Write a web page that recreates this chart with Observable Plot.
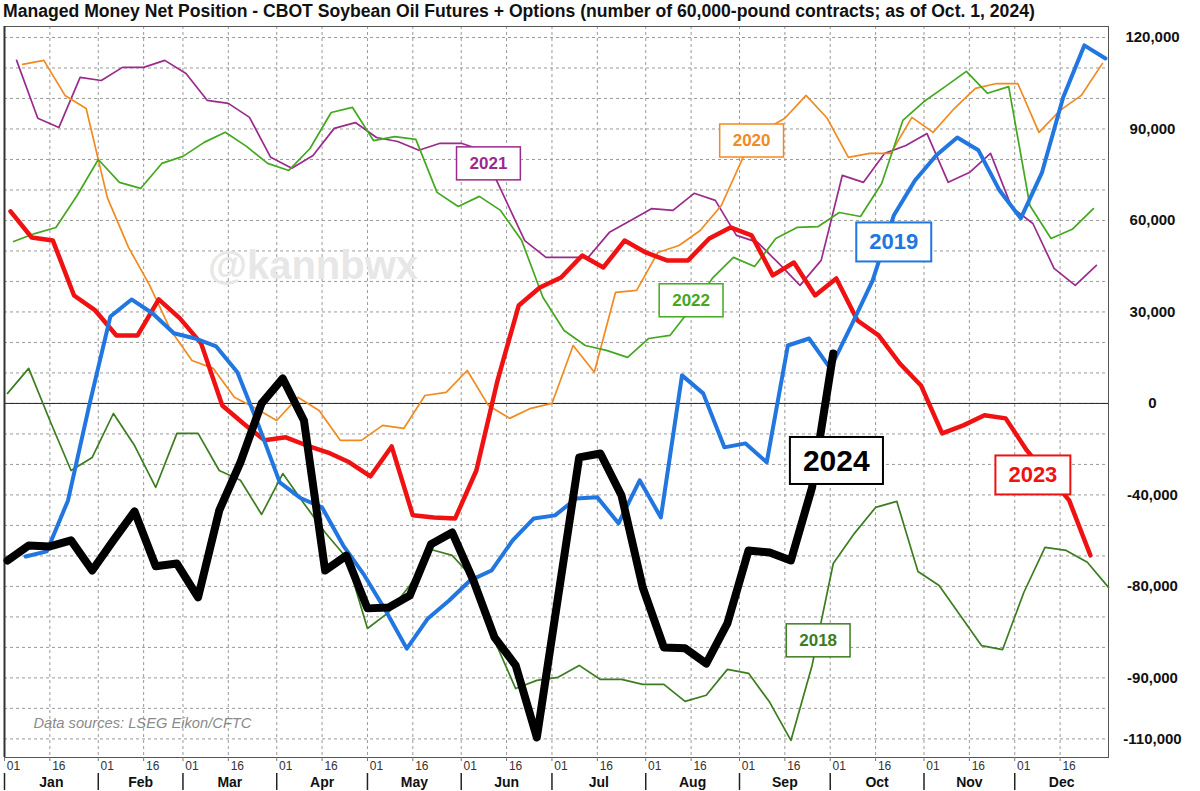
<!DOCTYPE html>
<html><head><meta charset="utf-8">
<script src="https://cdn.jsdelivr.net/npm/d3@7"></script>
<script src="https://cdn.jsdelivr.net/npm/@observablehq/plot@0.6"></script>
<style>
body{margin:0;background:#fff;font-family:"Liberation Sans",Arial,sans-serif;}
#title{height:22px;padding-left:3px;font-weight:bold;font-size:17.6px;line-height:22px;color:#111;white-space:nowrap;overflow:hidden;}
svg{display:block;}
</style></head><body>
<div id="title">Managed Money Net Position - CBOT Soybean Oil Futures + Options (number of 60,000-pound contracts; as of Oct. 1, 2024)</div>
<div id="chart"></div>
<script>
// ---- data (thousands of contracts, weekly CFTC Tuesdays) ----
const years = ["2018","2019","2020","2021","2022","2023","2024"];
const startDates = ["01-02","01-08","01-07","01-05","01-04","01-03","01-02"];
const v2018 = [3.3,11.5,-5.6,-22.0,-17.7,-3.3,-13.8,-27.5,-9.8,-9.8,-22.0,-25.2,-36.4,-23.0,-32.8,-42.3,-50.5,-73.8,-68.5,-59.7,-47.9,-49.8,-57.4,-77.7,-93.5,-90.8,-89.8,-85.9,-90.5,-90.5,-92.1,-92.1,-97.7,-95.7,-87.2,-88.5,-98.0,-110.5,-85.9,-52.5,-42.6,-34.1,-32.1,-55.1,-59.7,-69.5,-79.4,-80.7,-62.0,-47.2,-48.2,-52.1,-60.3];
const v2019 = [-50.2,-48.5,-31.8,-0.7,28.5,34.1,29.5,23.0,21.3,18.7,10.2,-7.2,-25.9,-31.1,-34.1,-46.6,-56.4,-67.9,-80.4,-70.5,-64.6,-58.0,-54.8,-44.9,-37.7,-36.7,-31.2,-30.8,-39.3,-25.2,-37.4,9.2,3.3,-14.4,-13.1,-19.3,19.0,21.3,11.5,25.6,40.3,61.6,73.1,81.3,87.2,83.0,69.8,60.7,75.7,100.3,117.4,113.1];
const v2020 = [111.2,112.5,101.0,96.7,67.5,51.2,38.7,23.9,14.1,11.5,2.0,-1.6,-5.6,2.0,-2.3,-12.1,-12.1,-7.2,-8.2,2.6,3.6,10.8,-0.7,-4.9,-1.6,0.0,19.0,10.2,36.4,37.1,49.5,51.8,56.7,64.9,80.3,89.5,93.5,101.0,93.5,80.7,82.0,82.0,93.8,88.9,96.7,103.3,104.9,104.9,88.9,96.1,101.0,111.5];
const v2021 = [112.5,93.5,90.5,106.9,105.9,110.2,110.2,112.5,108.2,99.4,98.4,93.8,80.7,77.1,81.3,90.2,92.1,87.2,85.9,83.0,85.3,85.3,83.0,68.2,53.4,47.9,47.9,47.9,56.1,60.0,63.9,63.3,68.9,66.6,55.1,52.8,45.9,38.7,46.9,74.8,72.5,82.0,84.6,88.5,72.5,75.7,82.0,64.3,59.0,44.3,38.7,45.3];
const v2022 = [53.1,55.7,57.7,68.2,80.0,72.5,70.5,78.7,81.0,85.6,88.9,84.3,78.7,76.4,83.6,95.4,97.1,86.2,87.5,86.6,69.2,64.6,67.9,63.3,53.4,34.8,23.9,19.0,17.4,15.1,21.3,22.3,31.2,41.0,47.9,44.9,54.1,57.7,58.0,62.6,61.3,72.1,92.8,99.0,103.9,108.9,101.7,103.9,64.9,54.1,57.1,63.9];
const v2023 = [63.0,54.4,53.4,35.4,30.5,22.3,22.3,34.1,27.9,19.7,-0.7,-6.6,-12.1,-11.1,-13.8,-16.1,-19.3,-23.9,-14.1,-36.7,-37.4,-37.7,-22.0,7.5,32.1,38.0,41.3,48.5,44.6,53.4,49.5,46.9,46.9,54.1,57.7,55.1,42.0,46.2,35.4,41.0,27.2,22.3,13.1,5.9,-9.8,-7.2,-3.9,-4.9,-15.4,-23.6,-31.8,-49.8];
const v2024 = [-51.5,-46.6,-46.9,-44.9,-54.8,-44.9,-35.4,-53.4,-52.5,-63.6,-35.1,-19.3,0.0,8.2,-5.6,-54.8,-49.9,-67.2,-66.9,-63.0,-46.2,-42.3,-58.0,-76.7,-85.9,-109.5,-63.6,-17.7,-16.4,-30.2,-60.3,-80.0,-80.3,-85.3,-72.1,-48.2,-48.9,-51.5,-27.5,16.4];
const yTickValues = [120,90,60,30,0,-30,-60,-90,-110];
const yTickLabels = ["120,000","90,000","60,000","30,000","0","-40,000","-80,000","-90,000","-110,000"];
const captionText = "Data sources: LSEG Eikon/CFTC";
const watermarkText = "@kannbwx";

// ---- styles & annotations ----
const seriesValues = [v2018,v2019,v2020,v2021,v2022,v2023,v2024];
const colors = {"2018":"#3b7d20","2019":"#2176e0","2020":"#f28a1f","2021":"#9a2b8c","2022":"#43a81e","2023":"#f01212","2024":"#000000"};
const widths = {"2018":1.7,"2019":4,"2020":1.7,"2021":1.7,"2022":1.7,"2023":4.5,"2024":8};
const drawOrder = ["2018","2021","2020","2022","2023","2019","2024"];
const labelSpots = [
  {year:"2021", day:"06-10", value:78.7, size:17, sw:1.5},
  {year:"2020", day:"09-05", value:86.2, size:17, sw:1.5},
  {year:"2022", day:"08-16", value:33.8, size:17, sw:1.5},
  {year:"2019", day:"10-22", value:52.8, size:22, sw:2},
  {year:"2024", day:"10-03", value:-19.0, size:30, sw:2},
  {year:"2023", day:"12-07", value:-23.6, size:22, sw:2},
  {year:"2018", day:"09-27", value:-77.7, size:17, sw:1.5}
];

const W = 1200, H = 769, mT = 4, mB = 34, mL = 4, mR = 92;
const plotH = H - mT - mB;
const REF = 2001;
const dt = (md) => { const [m,d] = md.split("-").map(Number); return new Date(Date.UTC(REF, m-1, d)); };

const rows = [];
years.forEach((yr, k) => {
  const s = dt(startDates[k]);
  seriesValues[k].forEach((v, i) => rows.push({year: yr, date: d3.utcDay.offset(s, 7*i), value: v}));
});

const xStart = new Date(Date.UTC(REF,0,1)), xEnd = new Date(Date.UTC(REF+1,0,1));
const monthStarts = d3.utcMonths(xStart, xEnd);
const halfMonthTicks = monthStarts.flatMap(m => [m, d3.utcDay.offset(m, 15)]);
const monthMids = monthStarts.map(m => new Date((+m + +d3.utcMonth.offset(m,1))/2));
const gridValues = d3.range(-110, 121, 10);

const marks = [
  Plot.gridY(gridValues, {stroke:"#9a9a9a", strokeOpacity:1, strokeDasharray:"3,3"}),
  Plot.gridX(halfMonthTicks, {stroke:"#9a9a9a", strokeOpacity:1, strokeDasharray:"3,3"}),
  Plot.text([watermarkText], {x: () => dt("04-13"), y: () => 44.9, text: d => d, fontSize: 40, fontWeight: "bold", fill: "#e7e7e7"}),
  Plot.ruleY([0], {stroke:"#222", strokeWidth:1}),
  Plot.frame({stroke:"#555"}),
  Plot.ruleX([xStart], {stroke:"#333", strokeWidth:2}),
  ...drawOrder.map(yr => Plot.line(rows.filter(r => r.year === yr), {
    x:"date", y:"value", stroke: colors[yr], strokeWidth: widths[yr], strokeLinejoin:"round", strokeLinecap:"round"
  })),
  ...labelSpots.map(l => Plot.text([l], {x: d => dt(d.day), y: "value", text: "year", fill: colors[l.year], fontSize: l.size, fontWeight: "bold"})),
  Plot.axisY({anchor:"right", ticks: yTickValues, tickFormat: d => yTickLabels[yTickValues.indexOf(d)], tickSize:0, tickPadding:44, textAnchor:"middle", fontSize:15, fontWeight:"bold", fill:"#111", label:null}),
  Plot.axisX({ticks: halfMonthTicks, tickFormat: () => "", tickSize:4, stroke:"#777", label:null}),
  Plot.axisX({ticks: halfMonthTicks, tickFormat: d3.utcFormat("%d"), tickSize:0, tickPadding:4, dx:9, fontSize:12, fill:"#333", label:null}),
  Plot.axisX({ticks: monthMids, tickFormat: d3.utcFormat("%b"), tickSize:0, tickPadding:20, fontSize:14, fontWeight:"bold", fill:"#111", label:null}),
  Plot.ruleX(monthStarts, {stroke:"#222", strokeWidth:1.5, insetTop: plotH + 16, insetBottom: -33}),
  Plot.text([captionText], {frameAnchor:"bottom-left", text: d => d, dx:29, dy:-30, textAnchor:"start", fontStyle:"italic", fontSize:14.7, fill:"#8a8a8a"})
];

const chart = Plot.plot({
  width: W, height: H,
  marginTop: mT, marginBottom: mB, marginLeft: mL, marginRight: mR,
  style: {fontFamily: "'Liberation Sans', Arial, sans-serif", background: "#fff", color: "#111"},
  x: {type: "utc", domain: [xStart, xEnd]},
  y: {domain: [-116.1, 123.6]},
  marks
});
document.getElementById("chart").appendChild(chart);

// white boxes with coloured borders behind the year labels
const labelYears = new Set(labelSpots.map(l => l.year));
const swByYear = Object.fromEntries(labelSpots.map(l => [l.year, l.sw]));
chart.querySelectorAll("text").forEach(t => {
  const s = t.textContent.trim();
  if (!labelYears.has(s)) return;
  const bb = t.getBBox();
  const padX = 13, padY = 7;
  const r = document.createElementNS("http://www.w3.org/2000/svg", "rect");
  r.setAttribute("x", bb.x - padX);
  r.setAttribute("y", bb.y - padY);
  r.setAttribute("width", bb.width + 2*padX);
  r.setAttribute("height", bb.height + 2*padY);
  r.setAttribute("fill", "#fff");
  r.setAttribute("stroke", colors[s]);
  r.setAttribute("stroke-width", swByYear[s]);
  const tr = t.getAttribute("transform");
  if (tr) r.setAttribute("transform", tr);
  t.parentNode.insertBefore(r, t);
});
</script>
</body></html>
